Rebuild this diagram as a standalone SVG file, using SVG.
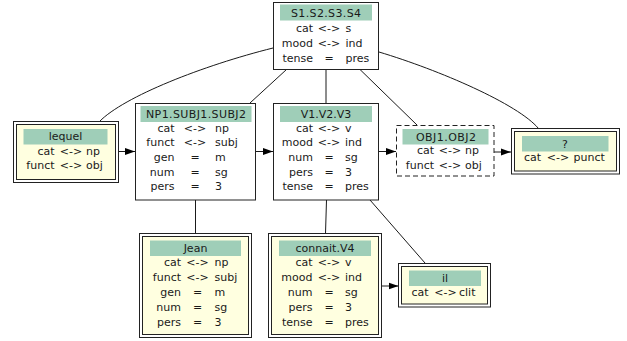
<svg xmlns="http://www.w3.org/2000/svg" width="627" height="341" viewBox="0 0 627 341">
<defs>
<style>
text{font-family:"DejaVu Sans","Verdana","Liberation Sans",sans-serif;font-size:11px;fill:#1a1a1a}
.m{text-anchor:middle}
.e{text-anchor:end}
.s{text-anchor:start}
.box{fill:#ffffff;stroke:#222;stroke-width:1}
.in{fill:#ffffe0;stroke:#222;stroke-width:1}
.dash{fill:#ffffff;stroke:#222;stroke-width:1;stroke-dasharray:5,3}
.hdr{fill:#9fceb8;stroke:none}
.edge{fill:none;stroke:#1a1a1a;stroke-width:1}
</style>
<marker id="arr" markerWidth="10" markerHeight="8" refX="10" refY="4" orient="auto" markerUnits="userSpaceOnUse">
<path d="M0,0.5 L10,4 L0,7.5 z" fill="#000"/>
</marker>
</defs>
<rect width="627" height="341" fill="#ffffff"/>
<g id="connectors">
<path class="edge" d="M273,48 C203,65.5 124,96.5 99.5,121.5"/>
<path class="edge" d="M286.5,69.5 L250,103"/>
<path class="edge" d="M326,69.5 L326,103"/>
<path class="edge" d="M360,69.5 L417,125"/>
<path class="edge" d="M379,52 C439,70 518,104 538.5,128.5"/>
<path class="edge" d="M195.5,200 L195.5,233.5"/>
<path class="edge" d="M326.5,200 L325.5,233.5"/>
<path class="edge" d="M370,200 L425,263"/>
<path class="edge" d="M119,151.5 L135,151.5" marker-end="url(#arr)"/>
<path class="edge" d="M255.5,151.5 L273,151.5" marker-end="url(#arr)"/>
<path class="edge" d="M379,151.5 L396,151.5" marker-end="url(#arr)"/>
<path class="edge" d="M494,152 L511,152" marker-end="url(#arr)"/>
<path class="edge" d="M381.5,286 L398.5,286" marker-end="url(#arr)"/>
</g>
<g id="n_S">
<rect class="box" x="273.5" y="2.5" width="105" height="67"/>
<rect class="hdr" x="280" y="4.5" width="92" height="16"/>
<text class="m" x="326" y="16.5" textLength="70" lengthAdjust="spacing">S1.S2.S3.S4</text>
<text class="e" x="313" y="31.5">cat</text><text class="m" x="329" y="31.5">&lt;-&gt;</text><text class="s" x="345.5" y="31.5">s</text>
<text class="e" x="313" y="46.5">mood</text><text class="m" x="329" y="46.5">&lt;-&gt;</text><text class="s" x="345.5" y="46.5">ind</text>
<text class="e" x="313" y="61.5">tense</text><text class="m" x="329" y="61.5">=</text><text class="s" x="345.5" y="61.5">pres</text>
</g>
<g id="n_lequel">
<rect class="box" x="13.5" y="121.5" width="105" height="61"/>
<rect class="in" x="16.5" y="124.5" width="99" height="55"/>
<rect class="hdr" x="23.5" y="129" width="84" height="15.5"/>
<text class="m" x="65.5" y="139.5">lequel</text>
<text class="e" x="54.5" y="154.5">cat</text><text class="m" x="71" y="154.5">&lt;-&gt;</text><text class="s" x="86" y="154.5">np</text>
<text class="e" x="54.5" y="169">funct</text><text class="m" x="71" y="169">&lt;-&gt;</text><text class="s" x="86" y="169">obj</text>
</g>
<g id="n_NP1">
<rect class="box" x="135.5" y="103.5" width="120" height="96.5"/>
<rect class="hdr" x="140.5" y="106" width="111" height="16"/>
<text class="m" x="196" y="118" textLength="100" lengthAdjust="spacing">NP1.SUBJ1.SUBJ2</text>
<text class="e" x="174.5" y="131.5">cat</text><text class="m" x="195" y="131.5">&lt;-&gt;</text><text class="s" x="215" y="131.5">np</text>
<text class="e" x="174.5" y="146">funct</text><text class="m" x="195" y="146">&lt;-&gt;</text><text class="s" x="215" y="146">subj</text>
<text class="e" x="174.5" y="161">gen</text><text class="m" x="195" y="161">=</text><text class="s" x="215" y="161">m</text>
<text class="e" x="174.5" y="175.5">num</text><text class="m" x="195" y="175.5">=</text><text class="s" x="215" y="175.5">sg</text>
<text class="e" x="174.5" y="190">pers</text><text class="m" x="195" y="190">=</text><text class="s" x="215" y="190">3</text>
</g>
<g id="n_V1">
<rect class="box" x="273.5" y="103.5" width="105" height="96.5"/>
<rect class="hdr" x="280" y="106" width="92" height="16"/>
<text class="m" x="326" y="118">V1.V2.V3</text>
<text class="e" x="313" y="131.5">cat</text><text class="m" x="329" y="131.5">&lt;-&gt;</text><text class="s" x="345" y="131.5">v</text>
<text class="e" x="313" y="146">mood</text><text class="m" x="329" y="146">&lt;-&gt;</text><text class="s" x="345" y="146">ind</text>
<text class="e" x="313" y="161">num</text><text class="m" x="329" y="161">=</text><text class="s" x="345" y="161">sg</text>
<text class="e" x="313" y="175.5">pers</text><text class="m" x="329" y="175.5">=</text><text class="s" x="345" y="175.5">3</text>
<text class="e" x="313" y="190">tense</text><text class="m" x="329" y="190">=</text><text class="s" x="345" y="190">pres</text>
</g>
<g id="n_OBJ1">
<rect class="dash" x="396.5" y="125.5" width="97.5" height="50.5"/>
<rect class="hdr" x="402.5" y="129" width="86" height="15.5"/>
<text class="m" x="446" y="140.5" textLength="60" lengthAdjust="spacing">OBJ1.OBJ2</text>
<text class="e" x="434" y="154">cat</text><text class="m" x="450" y="154">&lt;-&gt;</text><text class="s" x="465" y="154">np</text>
<text class="e" x="434" y="168.7">funct</text><text class="m" x="450" y="168.7">&lt;-&gt;</text><text class="s" x="465" y="168.7">obj</text>
</g>
<g id="n_punct">
<rect class="box" x="511.5" y="128.5" width="108" height="45.5"/>
<rect class="in" x="514.5" y="131.5" width="102" height="39.5"/>
<rect class="hdr" x="522" y="136" width="86.5" height="15.5"/>
<text class="m" x="565" y="147.5">?</text>
<text class="e" x="541" y="161">cat</text><text class="m" x="558" y="161">&lt;-&gt;</text><text class="s" x="573.5" y="161">punct</text>
</g>
<g id="n_Jean">
<rect class="box" x="139.5" y="233.5" width="112" height="104"/>
<rect class="in" x="142.5" y="236.5" width="106" height="98"/>
<rect class="hdr" x="150" y="240.5" width="91" height="15.5"/>
<text class="m" x="195.5" y="252">Jean</text>
<text class="e" x="181" y="265.5">cat</text><text class="m" x="197.5" y="265.5">&lt;-&gt;</text><text class="s" x="214.5" y="265.5">np</text>
<text class="e" x="181" y="280.5">funct</text><text class="m" x="197.5" y="280.5">&lt;-&gt;</text><text class="s" x="214.5" y="280.5">subj</text>
<text class="e" x="181" y="295.5">gen</text><text class="m" x="197.5" y="295.5">=</text><text class="s" x="214.5" y="295.5">m</text>
<text class="e" x="181" y="310.5">num</text><text class="m" x="197.5" y="310.5">=</text><text class="s" x="214.5" y="310.5">sg</text>
<text class="e" x="181" y="325.5">pers</text><text class="m" x="197.5" y="325.5">=</text><text class="s" x="214.5" y="325.5">3</text>
</g>
<g id="n_connait">
<rect class="box" x="268.5" y="233.5" width="113" height="104"/>
<rect class="in" x="271.5" y="236.5" width="107" height="98"/>
<rect class="hdr" x="279" y="240.5" width="92" height="15.5"/>
<text class="m" x="325" y="252">connait.V4</text>
<text class="e" x="312.5" y="265.5">cat</text><text class="m" x="329" y="265.5">&lt;-&gt;</text><text class="s" x="345" y="265.5">v</text>
<text class="e" x="312.5" y="280.5">mood</text><text class="m" x="329" y="280.5">&lt;-&gt;</text><text class="s" x="345" y="280.5">ind</text>
<text class="e" x="312.5" y="295.5">num</text><text class="m" x="329" y="295.5">=</text><text class="s" x="345" y="295.5">sg</text>
<text class="e" x="312.5" y="310.5">pers</text><text class="m" x="329" y="310.5">=</text><text class="s" x="345" y="310.5">3</text>
<text class="e" x="312.5" y="325.5">tense</text><text class="m" x="329" y="325.5">=</text><text class="s" x="345" y="325.5">pres</text>
</g>
<g id="n_il">
<rect class="box" x="398.5" y="263.5" width="92" height="43.5"/>
<rect class="in" x="401.5" y="266.5" width="86" height="37.5"/>
<rect class="hdr" x="409" y="270.5" width="72" height="15.5"/>
<text class="m" x="445" y="281.5">il</text>
<text class="e" x="428.5" y="296">cat</text><text class="m" x="445.5" y="296">&lt;-&gt;</text><text class="s" x="459" y="296">clit</text>
</g>
</svg>
